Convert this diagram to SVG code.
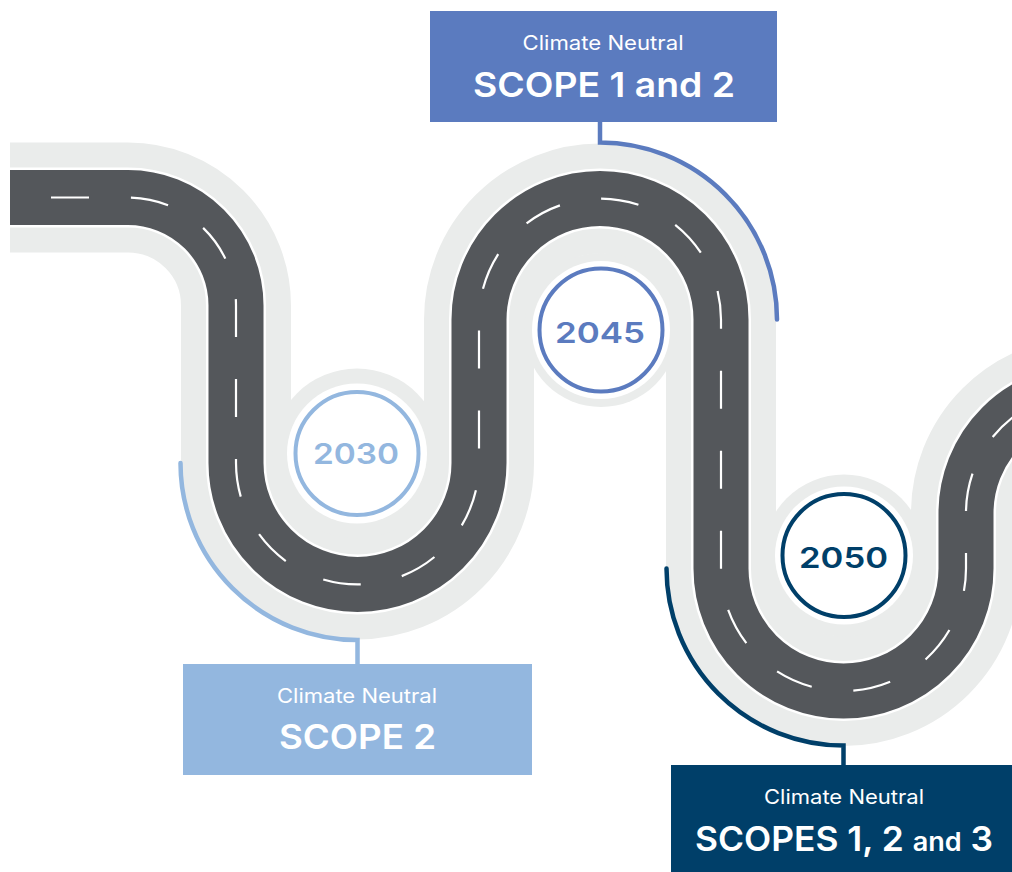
<svg xmlns="http://www.w3.org/2000/svg" width="1012" height="872" viewBox="0 0 1012 872">
  <defs>
    <style>
      .band { fill: none; stroke: #eaeceb; stroke-width: 110; }
      .edge { fill: none; stroke: #ffffff; stroke-width: 60; }
      .road { fill: none; stroke: #54575b; stroke-width: 55; }
      .lane { fill: none; stroke: #ffffff; stroke-width: 2.2; stroke-dasharray: 38 42; }
      .halo { fill: #eaeceb; }
      .hole { fill: #ffffff; }
      .ring { fill: #ffffff; stroke-width: 4; }
      .year { font-family: Inter, "Open Sans", sans-serif; font-size: 29px; font-weight: 600; text-anchor: middle; }
      .small { font-family: Inter, "Open Sans", sans-serif; font-size: 20px; font-weight: 400; fill: #ffffff; text-anchor: middle; }
      .big { font-family: Inter, "Open Sans", sans-serif; font-size: 34px; font-weight: 600; fill: #ffffff; text-anchor: middle; }
      .link { fill: none; stroke-width: 4.5; stroke-linecap: round; }
      .c1 { stroke: #93b7df; }
      .c2 { stroke: #5b7bbf; }
      .c3 { stroke: #003f69; }
    </style>
  </defs>

  <rect width="1012" height="872" fill="#ffffff"/>

  <!-- winding road: shoulder band, white edge, asphalt, lane markings -->
  <g id="road">
    <path class="band" d="M10,197.5 H128 A108,108 0 0 1 236,305.5 V463 A121.5,121.5 0 0 0 479,463 V319.5 A121,121 0 0 1 721,319.5 V568.5 A122.5,122.5 0 0 0 966,568.5 V513 A121.5,121.5 0 0 1 1087.5,391.5 H1130"/>
    <path class="edge" d="M10,197.5 H128 A108,108 0 0 1 236,305.5 V463 A121.5,121.5 0 0 0 479,463 V319.5 A121,121 0 0 1 721,319.5 V568.5 A122.5,122.5 0 0 0 966,568.5 V513 A121.5,121.5 0 0 1 1087.5,391.5 H1130"/>
    <path class="road" d="M10,197.5 H128 A108,108 0 0 1 236,305.5 V463 A121.5,121.5 0 0 0 479,463 V319.5 A121,121 0 0 1 721,319.5 V568.5 A122.5,122.5 0 0 0 966,568.5 V513 A121.5,121.5 0 0 1 1087.5,391.5 H1130"/>
    <path class="lane" stroke-dashoffset="39" d="M10,197.5 H128 A108,108 0 0 1 236,305.5 V463 A121.5,121.5 0 0 0 479,463 V319.5 A121,121 0 0 1 721,319.5 V568.5 A122.5,122.5 0 0 0 966,568.5 V513 A121.5,121.5 0 0 1 1087.5,391.5 H1130"/>
  </g>

  <!-- connectors from milestones to their labels -->
  <g id="connectors">
    <path class="link c2" d="M600,122 V142.5 A177,177 0 0 1 777,319.5"/>
    <path class="link c1" d="M357.5,664 V640 A177,177 0 0 1 180.5,463"/>
    <path class="link c3" d="M843.5,765 V745.5 A177,177 0 0 1 666.5,568.5"/>
  </g>

  <!-- milestone years -->
  <g id="m2030">
    <circle class="halo" cx="357" cy="453.5" r="85"/>
    <circle class="hole" cx="357" cy="453.5" r="70"/>
    <circle class="ring c1" cx="357" cy="453.5" r="61.5"/>
    <text class="year" x="356" y="463.5" fill="#93b7df" textLength="86" lengthAdjust="spacingAndGlyphs">2030</text>
  </g>
  <g id="m2045">
    <circle class="halo" cx="601" cy="330" r="77"/>
    <circle class="hole" cx="601" cy="330" r="69"/>
    <circle class="ring c2" cx="601" cy="330" r="61.5"/>
    <text class="year" x="600" y="343" fill="#5b7bbf" textLength="90" lengthAdjust="spacingAndGlyphs">2045</text>
  </g>
  <g id="m2050">
    <circle class="halo" cx="844" cy="555.5" r="81"/>
    <circle class="hole" cx="844" cy="555.5" r="69"/>
    <circle class="ring c3" cx="844" cy="555.5" r="61.5"/>
    <text class="year" x="843.5" y="568" fill="#003f69" textLength="89" lengthAdjust="spacingAndGlyphs">2050</text>
  </g>

  <!-- label boxes -->
  <g id="label-scope12">
    <rect x="430" y="11" width="347" height="111" fill="#5b7bbf"/>
    <text class="small" x="603" y="50" textLength="161" lengthAdjust="spacingAndGlyphs">Climate Neutral</text>
    <text class="big" x="604" y="97" textLength="262" lengthAdjust="spacingAndGlyphs">SCOPE 1 and 2</text>
  </g>
  <g id="label-scope2">
    <rect x="183" y="664" width="349" height="111" fill="#93b7df"/>
    <text class="small" x="357" y="703" textLength="160" lengthAdjust="spacingAndGlyphs">Climate Neutral</text>
    <text class="big" x="357.5" y="749" textLength="157" lengthAdjust="spacingAndGlyphs">SCOPE 2</text>
  </g>
  <g id="label-scope123">
    <rect x="671" y="765" width="360" height="120" fill="#003f69"/>
    <text class="small" x="844" y="804" textLength="160" lengthAdjust="spacingAndGlyphs">Climate Neutral</text>
    <text class="big" x="844" y="851" textLength="298" lengthAdjust="spacingAndGlyphs">SCOPES 1, 2 <tspan font-size="26">and</tspan> 3</text>
  </g>
</svg>
